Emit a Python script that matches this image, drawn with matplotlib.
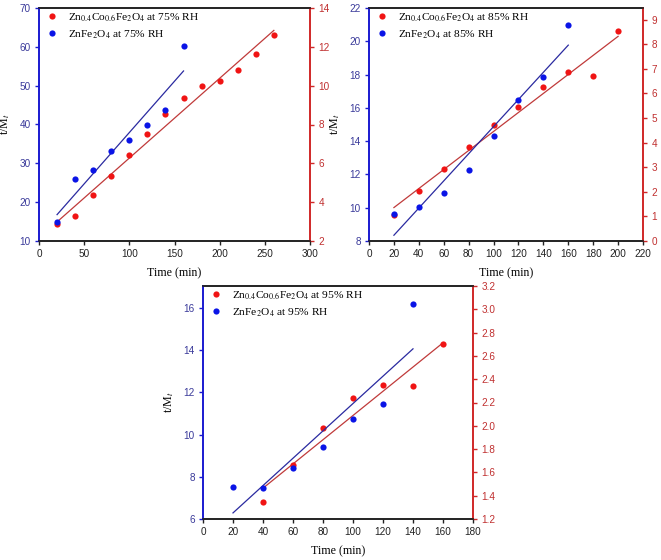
import numpy as np
import matplotlib
matplotlib.use("Agg")
import matplotlib.pyplot as plt

plt.rcParams['mathtext.fontset'] = 'stix'
SERIF = 'Liberation Serif'
SANS = 'Liberation Sans'

# ---- Data ----
# Panel 1: 75% RH
t75_zc = [20, 40, 60, 80, 100, 120, 140, 160, 180, 200, 220, 240, 260]
y75_zc = [2.86, 3.29, 4.37, 5.33, 6.41, 7.49, 8.52, 9.38, 9.97, 10.26, 10.82, 11.61, 12.59]
t75_zf = [20, 40, 60, 80, 100, 120, 140, 160]
y75_zf = [14.8, 26.0, 28.4, 33.3, 35.9, 39.9, 43.8, 60.2]

# Panel 2: 85% RH
t85_zc = [20, 40, 60, 80, 100, 120, 140, 160, 180, 200]
y85_zc = [1.07, 2.04, 2.92, 3.83, 4.70, 5.46, 6.26, 6.87, 6.69, 8.54]
t85_zf = [20, 40, 60, 80, 100, 120, 140, 160]
y85_zf = [9.64, 10.06, 10.88, 12.29, 14.29, 16.47, 17.87, 20.96]

# Panel 3: 95% RH
t95_zc = [40, 60, 80, 100, 120, 140, 160]
y95_zc = [1.343, 1.66, 1.977, 2.24, 2.354, 2.343, 2.703]
t95_zf = [20, 40, 60, 80, 100, 120, 140]
y95_zf = [7.53, 7.48, 8.41, 9.41, 10.75, 11.46, 16.19]

BLUE_PT = '#0a14e6'
RED_PT = '#f01414'
BLUE_LINE = '#2a2aa0'
RED_LINE = '#c03a3a'
BLUE_AX = '#1a1ad0'
BLUE_TXT = '#3a3a9a'
RED_AX = '#d02828'
RED_TXT = '#c03030'
DARK = '#222222'

fig = plt.figure(figsize=(6.61, 5.6), dpi=100)
W, H = 661, 560


def make_panel(rect_px, tz, yz, tf, yf, rh, xlim, xticks, ylimL, yticksL, ylimR, yticksR):
    x0, y0, x1, y1 = rect_px
    ax = fig.add_axes([x0 / W, 1 - y1 / H, (x1 - x0) / W, (y1 - y0) / H])
    axr = ax.twinx()
    # fits
    pf = np.polyfit(tf, yf, 1)
    xf = np.array([min(tf), max(tf)])
    ax.plot(xf, np.polyval(pf, xf), color=BLUE_LINE, lw=0.9, zorder=2)
    pz = np.polyfit(tz, yz, 1)
    xz = np.array([min(tz), max(tz)])
    axr.plot(xz, np.polyval(pz, xz), color=RED_LINE, lw=0.9, zorder=2)
    h1 = axr.scatter(tz, yz, s=20, color=RED_PT, zorder=3, linewidths=0,
                     label=r'Zn$_{0.4}$Co$_{0.6}$Fe$_2$O$_4$ at %s%% RH' % rh)
    h2 = ax.scatter(tf, yf, s=20, color=BLUE_PT, zorder=3, linewidths=0,
                    label=r'ZnFe$_2$O$_4$ at %s%% RH' % rh)
    ax.set_xlim(*xlim)
    ax.set_xticks(xticks)
    ax.set_ylim(*ylimL)
    ax.set_yticks(yticksL)
    axr.set_ylim(*ylimR)
    axr.set_yticks(yticksR)
    for a in (ax, axr):
        a.spines['top'].set_color(DARK)
        a.spines['bottom'].set_color(DARK)
        a.spines['left'].set_color(BLUE_AX)
        a.spines['right'].set_color(RED_AX)
        for s in a.spines.values():
            s.set_linewidth(1.2)
    ax.tick_params(axis='x', direction='out', length=3, width=1, colors=DARK,
                   labelsize=7.2, pad=3)
    ax.tick_params(axis='y', direction='out', length=3, width=1, colors=BLUE_AX,
                   labelcolor=BLUE_TXT, labelsize=7.2, pad=3)
    axr.tick_params(axis='y', direction='out', length=3, width=1, colors=RED_AX,
                    labelcolor=RED_TXT, labelsize=7.2, pad=3)
    for lab in ax.get_xticklabels() + ax.get_yticklabels() + axr.get_yticklabels():
        lab.set_fontfamily(SANS)
    ax.set_xlabel('Time (min)', fontfamily=SERIF, fontsize=8.6, labelpad=6)
    ax.set_ylabel(r't/M$_t$', fontfamily=SERIF, fontsize=8.6, labelpad=5)
    ax.legend(handles=[h1, h2], loc='upper left', frameon=False,
              prop={'family': SERIF, 'size': 8.2}, handletextpad=0.55,
              handlelength=1.7, borderpad=0.1,
              borderaxespad=0.2, labelspacing=0.4, scatteryoffsets=[0.5])
    ax.set_zorder(axr.get_zorder() + 1)
    ax.patch.set_visible(False)
    return ax, axr


make_panel((39, 8, 310, 241), t75_zc, y75_zc, t75_zf, y75_zf, '75',
           (0, 300), np.arange(0, 301, 50), (10, 70), np.arange(10, 71, 10),
           (2, 14), np.arange(2, 15, 2))

make_panel((369, 8, 643, 241), t85_zc, y85_zc, t85_zf, y85_zf, '85',
           (0, 220), np.arange(0, 221, 20), (8, 22), np.arange(8, 23, 2),
           (0, 9.47), np.arange(0, 10, 1))

make_panel((203, 286, 473, 519), t95_zc, y95_zc, t95_zf, y95_zf, '95',
           (0, 180), np.arange(0, 181, 20), (6, 17.04), np.arange(6, 17, 2),
           (1.2, 3.2), np.round(np.arange(1.2, 3.21, 0.2), 1))

fig.savefig('out.png', dpi=100)
